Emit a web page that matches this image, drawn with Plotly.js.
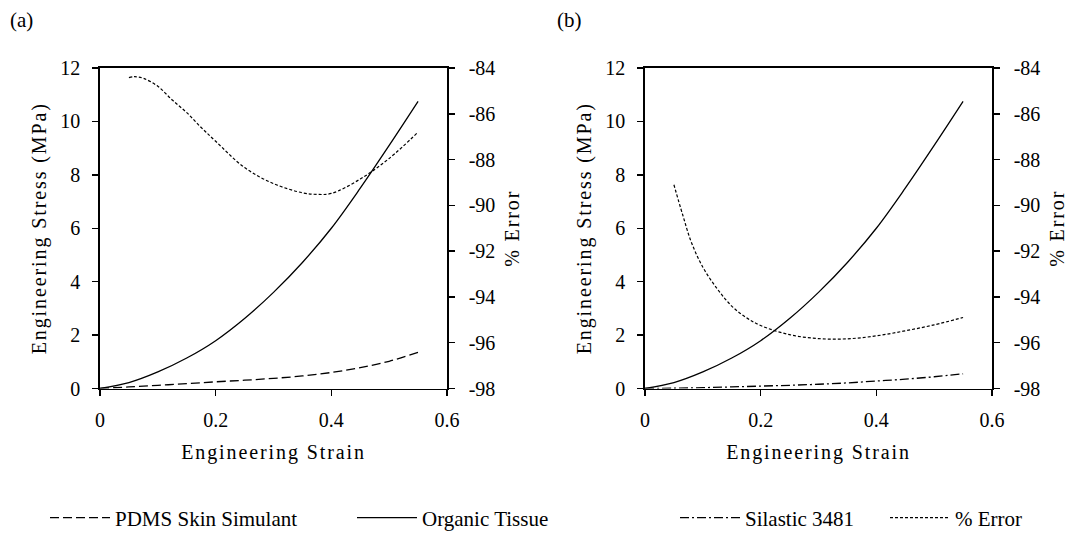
<!DOCTYPE html>
<html>
<head>
<meta charset="utf-8">
<script src="https://cdn.plot.ly/plotly-3.0.1.min.js"></script>
<style>
html, body { margin:0; padding:0; background:#fff; }
#chart { width:1074px; height:533px; }
svg text.xtitle, svg text.x2title, svg text.ytitle, svg text.y3title,
svg text.y2title, svg text.y4title { letter-spacing: 1.9px; }
</style>
</head>
<body>
<div id="chart"></div>
<script>
// ---- data ----
const strain = [0, 0.05, 0.1, 0.15, 0.2, 0.25, 0.3, 0.35, 0.4, 0.45, 0.5, 0.55];
const organicTissue = [0, 0.22, 0.62, 1.14, 1.79, 2.62, 3.6, 4.72, 6.0, 7.5, 9.1, 10.75];
const pdmsSkin = [0, 0.06, 0.12, 0.18, 0.25, 0.31, 0.38, 0.47, 0.6, 0.78, 1.02, 1.35];
const silastic3481 = [0, 0.01, 0.03, 0.06, 0.09, 0.12, 0.16, 0.21, 0.28, 0.35, 0.44, 0.55];

const errorStrainA = [0.05, 0.06, 0.075, 0.1, 0.125, 0.15, 0.175, 0.2, 0.25, 0.3, 0.35, 0.375, 0.4, 0.45, 0.5, 0.55];
const errorA = [-84.42, -84.38, -84.45, -84.8, -85.4, -85.95, -86.6, -87.2, -88.35, -89.05, -89.45, -89.52, -89.48, -88.85, -87.95, -86.8];

const errorStrainB = [0.05, 0.065, 0.08, 0.1, 0.125, 0.15, 0.175, 0.2, 0.25, 0.3, 0.35, 0.4, 0.45, 0.5, 0.55];
const errorB = [-89.1, -90.4, -91.6, -92.7, -93.65, -94.4, -94.9, -95.25, -95.65, -95.82, -95.83, -95.7, -95.48, -95.22, -94.9];

const xTicks = [0, 0.2, 0.4, 0.6];
const xTickText = ['0', '0.2', '0.4', '0.6'];
const stressTicks = [0, 2, 4, 6, 8, 10, 12];
const errorTicks = [-98, -96, -94, -92, -90, -88, -86, -84];
const errorTickText = ['-98', '-96', '-94', '-92', '-90', '-88', '-86', '-84'];

const panelLabels = ['(a)', '(b)'];
const xTitle = 'Engineering Strain';
const yTitle = 'Engineering Stress (MPa)';
const y2Title = '% Error';
const names = ['PDMS Skin Simulant', 'Organic Tissue', 'Silastic 3481', '% Error'];

// ---- styles ----
const FONT = 'Liberation Serif';
const LW = 1.3;
const dashPDMS = '9px,4px';
const dashErr = '3px,2px';
const dashSil = '9px,3px,2px,3px';

const traces = [
  {x: strain, y: organicTissue, xaxis: 'x', yaxis: 'y', name: names[1], mode: 'lines',
   line: {color: '#000', width: LW, shape: 'spline'}, legend: 'legend2'},
  {x: strain, y: pdmsSkin, xaxis: 'x', yaxis: 'y', name: names[0], mode: 'lines',
   line: {color: '#000', width: LW, dash: dashPDMS, shape: 'spline'}, legend: 'legend'},
  {x: errorStrainA, y: errorA, xaxis: 'x', yaxis: 'y2', name: names[3], mode: 'lines',
   line: {color: '#000', width: 1.2, dash: dashErr, shape: 'spline'}, legend: 'legend4'},
  {x: strain, y: organicTissue, xaxis: 'x2', yaxis: 'y3', name: names[1], mode: 'lines',
   line: {color: '#000', width: LW, shape: 'spline'}, showlegend: false},
  {x: strain, y: silastic3481, xaxis: 'x2', yaxis: 'y3', name: names[2], mode: 'lines',
   line: {color: '#000', width: LW, dash: dashSil, shape: 'spline'}, legend: 'legend3'},
  {x: errorStrainB, y: errorB, xaxis: 'x2', yaxis: 'y4', name: names[3], mode: 'lines',
   line: {color: '#000', width: 1.2, dash: dashErr, shape: 'spline'}, showlegend: false}
];

const W = 1074, H = 533;
const px = v => v / W;
const py = v => 1 - v / H;
const yDom = [py(388.5), py(68)];

function xAxis(dom, anchor) {
  return {
    domain: dom, anchor: anchor, range: [0, 0.6], tickvals: xTicks, ticktext: xTickText,
    showline: true, linecolor: '#000', linewidth: 1.7, mirror: true,
    ticks: 'outside', ticklen: 6, tickwidth: 1.5, tickcolor: '#000',
    ticklabelstandoff: 7,
    showgrid: false, zeroline: false,
    tickfont: {family: FONT, size: 20, color: '#000'},
    title: {text: xTitle, font: {family: FONT, size: 20, color: '#000'}, standoff: 15}
  };
}
function yLeft(anchor) {
  return {
    domain: yDom, anchor: anchor, range: [0, 12], tickvals: stressTicks,
    showline: true, linecolor: '#000', linewidth: 1.7,
    ticks: 'outside', ticklen: 6, tickwidth: 1.5, tickcolor: '#000',
    ticklabelstandoff: 8,
    showgrid: false, zeroline: false,
    tickfont: {family: FONT, size: 20, color: '#000'},
    title: {text: yTitle, font: {family: FONT, size: 20, color: '#000'}, standoff: 8}
  };
}
function yRight(anchor, over) {
  return {
    overlaying: over, anchor: anchor, side: 'right', range: [-98, -84],
    tickvals: errorTicks, ticktext: errorTickText,
    showline: true, linecolor: '#000', linewidth: 1.7,
    ticks: 'outside', ticklen: 6, tickwidth: 1.5, tickcolor: '#000',
    ticklabelstandoff: 10,
    showgrid: false, zeroline: false,
    tickfont: {family: FONT, size: 20, color: '#000'},
    title: {text: y2Title, font: {family: FONT, size: 20, color: '#000'}, standoff: 10}
  };
}

function leg(xp) {
  return {orientation: 'h', x: px(xp), xanchor: 'left', y: py(518), yanchor: 'middle',
          font: {family: FONT, size: 21, color: '#000'}, bgcolor: 'rgba(0,0,0,0)',
          itemwidth: 60, tracegroupgap: 0};
}

const layout = {
  width: W, height: H,
  margin: {l: 0, r: 0, t: 0, b: 0, autoexpand: false},
  paper_bgcolor: '#fff', plot_bgcolor: '#fff',
  showlegend: true,
  font: {family: FONT, size: 20, color: '#000'},
  xaxis: xAxis([px(100), px(447)], 'y'),
  yaxis: yLeft('x'),
  yaxis2: yRight('x', 'y'),
  xaxis2: xAxis([px(645), px(992)], 'y3'),
  yaxis3: yLeft('x2'),
  yaxis4: yRight('x2', 'y3'),
  legend: leg(45),
  legend2: leg(352),
  legend3: leg(675),
  legend4: leg(885),
  annotations: [
    {text: panelLabels[0], xref: 'paper', yref: 'paper', x: px(8), y: py(20), xanchor: 'left', yanchor: 'middle',
     showarrow: false, font: {family: FONT, size: 21, color: '#000'}},
    {text: panelLabels[1], xref: 'paper', yref: 'paper', x: px(555), y: py(20), xanchor: 'left', yanchor: 'middle',
     showarrow: false, font: {family: FONT, size: 21, color: '#000'}}
  ]
};

Plotly.newPlot('chart', traces, layout, {staticPlot: true, displayModeBar: false});
</script>
</body>
</html>
